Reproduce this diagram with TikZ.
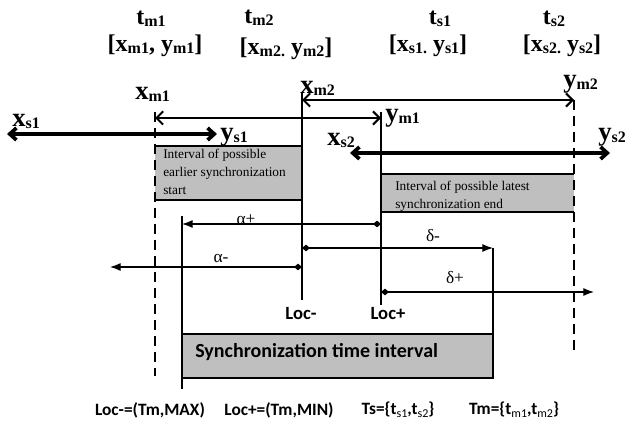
\documentclass[tikz,border=0pt]{standalone}
\usepackage{fontspec}
\setmainfont{Liberation Serif}
\newfontfamily\calib{Carlito}
\usetikzlibrary{arrows.meta}
\newcommand\bsub[1]{\raisebox{-1.5pt}{\fontsize{12}{12}\selectfont #1}}
\newcommand\csub[1]{\raisebox{-2pt}{\fontsize{9}{9}\selectfont\mdseries #1}}
\begin{document}
\begin{tikzpicture}[x=0.75pt,y=-0.75pt,
  dashline/.style={line width=1.8pt,dash pattern=on 7.5pt off 4.5pt},
  vline/.style={line width=1.6pt},
  boxedge/.style={line width=0.8pt},
  farrow/.style={line width=0.9pt,{Diamond[length=6pt,width=5pt]}-{Latex[length=8pt,width=6pt]}},
  marrow/.style={line width=1.5pt,{Straight Barb[length=5pt,width=10pt]}-{Straight Barb[length=5pt,width=10pt]}},
  sarrow/.style={line width=2.8pt,{Straight Barb[length=5pt,width=9pt]}-{Straight Barb[length=5pt,width=9pt]}},
  toplab/.style={font=\fontsize{18}{18}\selectfont\bfseries,anchor=base,inner sep=0pt},
  axlab/.style={font=\fontsize{20}{20}\selectfont\bfseries,anchor=base west,inner sep=0pt},
  greek/.style={font=\fontsize{13}{13}\selectfont,inner sep=0pt},
  loclab/.style={font=\calib\bfseries\fontsize{14}{14}\selectfont,inner sep=0pt},
  botlab/.style={font=\calib\bfseries\fontsize{13}{13}\selectfont,inner sep=0pt},
  boxtext/.style={font=\fontsize{10}{13.5}\selectfont,align=left,inner sep=0pt,anchor=north west},
  grayfill/.style={fill=black!25}
]
\useasboundingbox (0,0) rectangle (625,424);

% gray boxes
\fill[grayfill] (155,146) rectangle (302,200);
\draw[boxedge] (155,146) -- (302,146) (155,200) -- (302,200);
\fill[grayfill] (381,174) rectangle (574,212);
\draw[boxedge] (381,174) -- (574,174) (381,212) -- (574,212);
\draw[boxedge,grayfill] (182,334) rectangle (493,378);

\node[boxtext] (t1) at (163,149) {Interval of possible\\earlier synchronization\\start};
\node[boxtext] (t2) at (395,181) {Interval of possible latest\\synchronization end};
\node[font=\calib\bfseries\fontsize{15}{15}\selectfont,anchor=west,inner sep=0pt] (sync) at (195,352) {Synchronization time interval};

% coordinates
\coordinate (d1t) at (155,112); \coordinate (d1b) at (155,376);
\coordinate (d2t) at (574,100); \coordinate (d2b) at (574,353);
\coordinate (v2t) at (302,92);  \coordinate (v2b) at (302,300);
\coordinate (v3t) at (381,112); \coordinate (v3b) at (381,305);
\coordinate (v1t) at (182,216); \coordinate (v1b) at (182,389);
\coordinate (v4t) at (493,248); \coordinate (v4b) at (493,378);

% vertical lines
\draw[dashline] (d1t) -- (d1b);
\draw[dashline] (d2t) -- (d2b);
\draw[vline] (v2t) -- (v2b);
\draw[vline] (v3t) -- (v3b);
\draw[vline] (v1t) -- (v1b);
\draw[vline] (v4t) -- (v4b);

% arrows
\coordinate (am1) at (155,118); \coordinate (am2) at (381,118);
\draw[marrow] (am1) -- (am2);
\coordinate (bm1) at (302,100); \coordinate (bm2) at (574,100);
\draw[marrow] (bm1) -- (bm2);
\coordinate (s1a) at (7,134); \coordinate (s1b) at (217,134);
\draw[sarrow] (s1a) -- (s1b);
\coordinate (s2a) at (350,153); \coordinate (s2b) at (610,153);
\draw[sarrow] (s2a) -- (s2b);

\coordinate (ap0) at (381,224); \coordinate (ap1) at (182,224);
\draw[farrow] (ap0) -- (ap1);
\coordinate (am0) at (302,267); \coordinate (amx) at (110,267);
\draw[farrow] (am0) -- (amx);
\coordinate (dm0) at (302,248); \coordinate (dm1) at (493,248);
\draw[farrow] (dm0) -- (dm1);
\coordinate (dp0) at (381,292); \coordinate (dp1) at (594,292);
\draw[farrow] (dp0) -- (dp1);

% greek labels
\node[greek] (lap) at (246,220) {α+};
\node[greek] (lam) at (221,258) {α-};
\node[greek] (ldm) at (433,236) {δ-};
\node[greek] (ldp) at (455,278) {δ+};

% Loc labels
\node[loclab] (locm) at (301,314) {Loc-};
\node[loclab] (locp) at (388,314) {Loc+};

% top labels
\node[toplab] (tm1) at (151,25) {t\bsub{m1}};
\node[toplab] (im1) at (155,52) {[x\bsub{m1}, y\bsub{m1}]};
\node[toplab] (tm2) at (259,24) {t\bsub{m2}};
\node[toplab] (im2) at (286,55) {[x\bsub{m2.} y\bsub{m2}]};
\node[toplab] (ts1) at (440,25) {t\bsub{s1}};
\node[toplab] (is1) at (428,52) {[x\bsub{s1.} y\bsub{s1}]};
\node[toplab] (ts2) at (554,25) {t\bsub{s2}};
\node[toplab] (is2) at (562,52) {[x\bsub{s2.} y\bsub{s2}]};

% axis labels
\node[axlab] (lxm1) at (135,100) {x\bsub{m1}};
\node[axlab] (lxm2) at (300,94) {x\bsub{m2}};
\node[axlab] (lym2) at (563,88) {y\bsub{m2}};
\node[axlab] (lym1) at (385,122) {y\bsub{m1}};
\node[axlab] (lxs1) at (12,127) {x\bsub{s1}};
\node[axlab] (lys1) at (220,141) {y\bsub{s1}};
\node[axlab] (lxs2) at (327,146) {x\bsub{s2}};
\node[axlab] (lys2) at (598,141) {y\bsub{s2}};

% bottom labels
\node[botlab] (b1) at (150,410) {Loc-=(Tm,MAX)};
\node[botlab] (b2) at (279,410) {Loc+=(Tm,MIN)};
\node[botlab] (b3) at (398,410) {Ts=\{t\csub{s1},t\csub{s2}\}};
\node[botlab] (b4) at (514,410) {Tm=\{t\csub{m1},t\csub{m2}\}};
\end{tikzpicture}
\end{document}
